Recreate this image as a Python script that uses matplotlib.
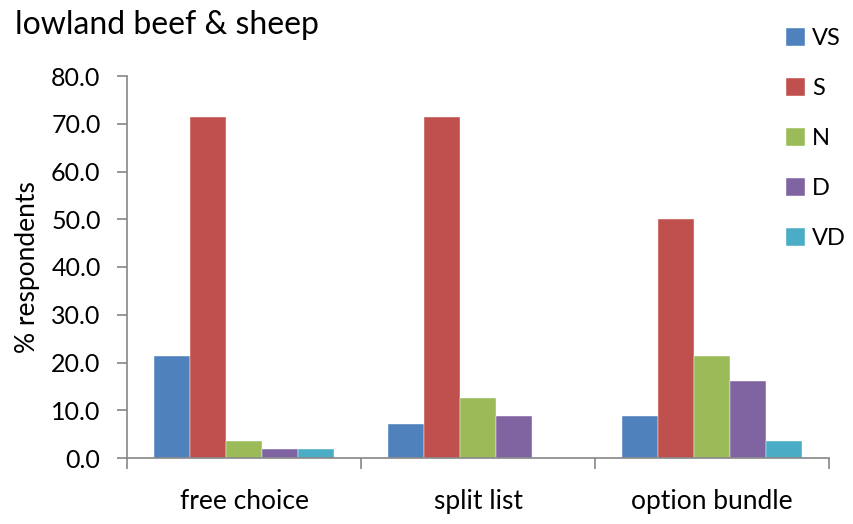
import matplotlib
matplotlib.use("Agg")
import matplotlib.pyplot as plt
import numpy as np

categories = ["free choice", "split list", "option bundle"]
series_names = ["VS", "S", "N", "D", "VD"]
vs = [21.4, 7.1, 8.9]
s = [71.4, 71.4, 50.0]
n = [3.6, 12.5, 21.4]
d = [1.8, 8.9, 16.1]
vd = [1.8, 0.0, 3.6]
colors = ["#4F81BD", "#C0504D", "#9BBB59", "#8064A2", "#4BACC6"]
yticks = [0, 10, 20, 30, 40, 50, 60, 70, 80]

plt.rcParams["font.family"] = ["Lato", "DejaVu Sans"]

fig = plt.figure(figsize=(8.54, 5.24), dpi=100)
ax = fig.add_axes([127/854, 1-458/524, (829-127)/854, (458-76)/524])

data = [vs, s, n, d, vd]
x = np.arange(len(categories))
w = 1/6.5
for i, (name, vals, c) in enumerate(zip(series_names, data, colors)):
    ax.bar(x + (i - 2) * w, vals, width=w, color=c, label=name,
           edgecolor="white", linewidth=0.3)

ax.set_xlim(-0.5, len(categories) - 0.5)
ax.set_ylim(0, 80)
ax.set_yticks(yticks)
ax.set_yticklabels([f"{v:.1f}" for v in yticks])
ax.set_xticks(x)
ax.set_xticklabels(categories)
ax.set_xticks(np.arange(len(categories) + 1) - 0.5, minor=True)
ax.tick_params(axis="x", which="major", length=0, pad=22, labelsize=19)
ax.tick_params(axis="x", which="minor", length=8, width=1.2, color="#868686", direction="out")
ax.tick_params(axis="y", length=7, width=1.2, color="#868686", direction="out", pad=12, labelsize=18)
for side in ["top", "right"]:
    ax.spines[side].set_visible(False)
for side in ["left", "bottom"]:
    ax.spines[side].set_color("#868686")
    ax.spines[side].set_linewidth(1.2)

ax.set_ylabel("% respondents", fontsize=19, labelpad=8)
fig.text(15/854, 1-34/524, "lowland beef & sheep", fontsize=23, va="baseline", ha="left")

leg = fig.legend(loc="upper left", bbox_to_anchor=(786/854, 1-28/524), frameon=False,
                 fontsize=17, handlelength=0.8, handleheight=0.8, labelspacing=1.22,
                 handletextpad=0.3, borderpad=0, borderaxespad=0)

fig.savefig("out.png", dpi=100)
